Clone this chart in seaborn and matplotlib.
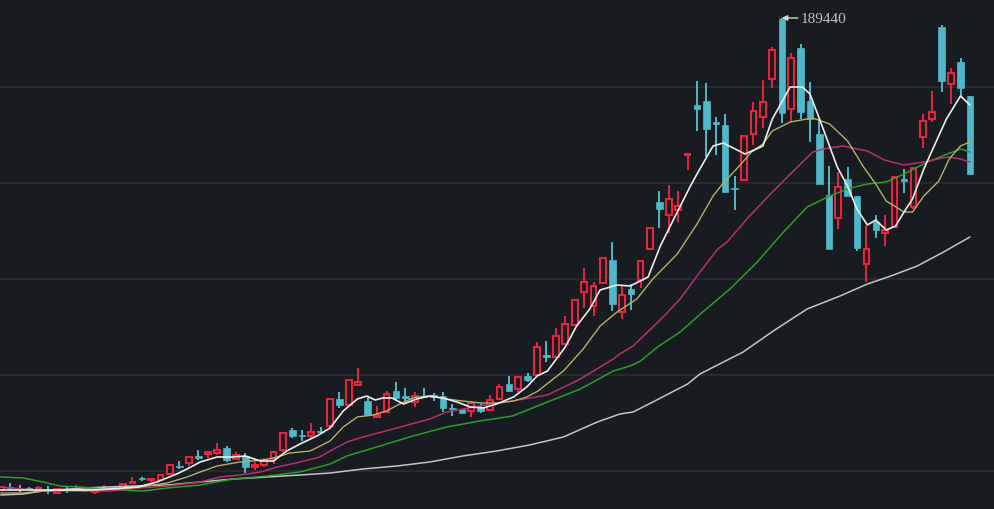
import matplotlib
matplotlib.use("Agg")
import matplotlib.pyplot as plt
import numpy as np
import seaborn as sns

POINT = 189440 / 491
PEAK_LABEL = "189440"
GRID_LEVELS = [38.5, 134.5, 230.5, 326.5, 422.5]

opens = [19,22,21,21,20,19.5,16,20,19,18.5,17,19,20,19,26,31,29,29,35,43,46,53,55,56,61,50,53,42,44,50,59,79,74,73,78,
         83,110,104,124,108,92,97,118,113,107,113,114,113,101,100,98,102,99,110,125,120,133,134,154,152,165,184,217,203,226,249,197,220,229,260,
         307,294,299,354,404,408,387,384,321,329,375,392,430,490,400,461,408,375,314,291,330,313,245,287,276,282,330,302,372,390,482,425,447,413]
closes = [22,21,20,20,21,18.5,20,19,20,19,18,20,21,25,27,30,30,34,44,42,52,51,57,59,49,54,42,44,49,57,76,73,73,77,77,
          110,104,129,127,94,94,115,111,111,113,112,112,101,100,96,106,98,109,122,118,132,129,162,152,173,185,209,227,223,251,205,214,215,248,281,
          300,310,303,355,400,380,385,317,320,373,398,407,459,396,451,397,390,325,260,322,313,261,260,279,279,332,328,341,388,397,428,436,421,335]
highs = [22,26,24,22,23,23,20,22,24,20,18,24,22,25,32,32,31,34,44,48,53,59,58,66,63,57,56,47,51,57,76,81,79,86,82,
         111,117,130,141,113,103,118,127,121,117,121,116,117,105,100,108,105,114,125,133,132,136,167,168,181,193,209,241,227,252,267,223,225,249,281,
         318,324,318,355,428,426,392,395,333,373,407,429,462,491,456,465,427,390,343,337,342,313,283,294,294,333,340,341,395,418,484,441,451,413]
lows = [18,18,17,19,18,15,15,16,17,18,15,19,19,19,26,28,27,29,34,40,43,49,51,54,47,50,36,39,42,45,57,71,68,71,75,
        80,101,104,124,93,92,96,108,107,102,111,108,97,93,96,92,96,99,110,118,117,127,134,147,151,165,183,201,193,226,198,190,199,221,259,
        281,276,287,339,378,352,354,317,299,329,364,381,421,386,388,390,367,325,260,280,313,258,227,271,263,282,316,300,361,387,417,405,412,335]

ma5_day = [0,5.2,10,14.6,16.6,18.7,19.8,21.2,23,24.7,26,27.6,29,30.4,31.8,33.6,35,36.4,37.9,38.9,39.8,40.6,41.6,42.8,44.2,45.6,47,48.5,49.9,51.3,52.7,54.5,55.9,57,58.1,60,61.2,62.6,63.7,65.5,66.9,68.8,70.1,71.9,73.3,74,75.7,76.8,79.1,81,82,82.6,83.9,85.2,86,87.1,88.9,90,91,92.1,93,94.1,95.1,96,96.9,98.1,99.2,100.5,102,103]
ma5 = [19,19,19,22,27,35,40,47,52,52,53,48,48,58,65,73,81,98,110,113,109,111,111,105,110,113,111,107,102,101,105,112,122,133,138,162,183,200,219,224,223,232,263,297,323,335,363,366,355,363,390,400,422,422,415,388,342,323,300,284,289,279,283,297,310,340,363,390,413,404]

ma10_day = [0,2.4,4.5,7,12.4,14.8,17.7,19.8,21.2,23,25.4,27.9,29.4,30.7,32.9,35,36.4,37.9,39.6,41,42.4,43.8,45.3,47.4,49.1,51,52.7,54.5,55.9,57.1,59.8,61.9,63.7,65.5,67.6,69.3,71.9,74,75.7,76.7,78.2,79.8,81,82,83.9,86.3,88.1,90,91.7,93,94.1,96,96.9,98.1,99.7,100.8,102,103]
ma10 = [16,16,18,19,20,22,26,32,37,43,47,49,52,56,58,68,82,92,94,98,105,111,113,110,108,106,106,108,112,118,138,160,183,197,210,230,255,285,313,325,340,357,365,378,387,391,385,368,342,325,308,297,297,313,328,350,363,367]

ma20_day = [0,2.4,4.5,7,11.6,14.8,17.7,21.2,23.3,25.4,27.6,29.4,31.8,33.9,35,36.8,38.5,42.1,45.6,47.4,50.9,54.4,58.1,61.6,65.1,65.8,67.2,70.4,72.2,74,76.2,77.2,79.3,81.8,83.6,86.3,87.4,89.5,92.1,93.9,96,98.1,100.6,102,103]
ma20 = [22,20,18,18,18,21,23,27,32,34,37,42,47,52,58,67,72,81,90,97,103,108,114,130,150,155,163,192,210,233,260,267,290,315,332,357,360,363,358,349,344,347,352,350,347]

ma30_day = [0,2.4,4.5,6.3,8.4,12.4,15.1,17.7,21.2,24.7,28.3,31.8,35,36.8,40.3,43.8,47.4,50.9,54.4,58.1,61.6,65.1,66.9,68,69.8,72.2,74.6,77.5,80.4,81.6,82.8,85.7,88.1,90.3,92.1,94.1,96,98.5,100.6,102,103]
ma30 = [32,31,27,23,22,19,18,21,24,30,33,37,45,53,63,73,82,88,93,107,120,138,143,148,162,177,197,220,247,260,273,302,313,321,325,327,335,347,355,360,357]

ma60_day = [0,2.4,4.5,8.7,14.1,17.7,21.2,24.7,28.3,31.8,35,38.5,42.1,45.6,49.1,52.7,56.2,59.8,63.4,65.8,67.2,69.3,73,74.3,78.9,82.1,85.7,89.2,92.1,94.6,97.4,100.2,103]
ma60 = [14,15,18,21,23,24,27,30,32,34,36,40,43,47,53,58,64,72,87,95,97,107,125,135,157,178,200,213,225,233,243,257,272]

BG = "#181b20"
RED = "#e8233f"
TEAL = "#4fb9c9"
GRID = "#2b2d31"

sns.set_theme(style="dark", rc={"axes.facecolor": BG, "figure.facecolor": BG})
fig = plt.figure(figsize=(9.94, 5.10), dpi=100)
ax = fig.add_axes([0, 0, 1, 1])

days = np.arange(len(opens))
o, c, h, l = [np.array(a, float) * POINT for a in (opens, closes, highs, lows)]
up = c >= o

for level in GRID_LEVELS:
    ax.axhline(level * POINT, color=GRID, lw=1.2, zorder=1)

ax.vlines(days[up], l[up], h[up], color=RED, lw=1.4, zorder=2)
ax.vlines(days[~up], l[~up], h[~up], color=TEAL, lw=1.4, zorder=2)
ax.bar(days[up], (c - o)[up], bottom=o[up], width=0.6, facecolor=BG, edgecolor=RED, linewidth=1.5, zorder=3)
ax.bar(days[~up], (o - c)[~up], bottom=c[~up], width=0.68, facecolor=TEAL, edgecolor=TEAL, linewidth=0.5, zorder=3)

for d, v, col, lw in [
    (ma60_day, ma60, "#c4c4c4", 1.1),
    (ma30_day, ma30, "#2c9c2c", 1.1),
    (ma20_day, ma20, "#b5306f", 1.1),
    (ma10_day, ma10, "#b3b06a", 1.0),
    (ma5_day, ma5, "#ececec", 1.2),
]:
    sns.lineplot(x=d, y=np.array(v, float) * POINT, color=col, linewidth=lw, estimator=None, sort=False, ax=ax, zorder=4)

ax.annotate(PEAK_LABEL, xy=(days[int(np.argmax(h))], h.max()), xytext=(14, 0), textcoords="offset points",
            color="#bcc0c0", fontsize=11, family="Liberation Serif", va="center", ha="left",
            arrowprops=dict(arrowstyle="-|>", color="#d8d8d8", lw=1, shrinkA=0, shrinkB=0, mutation_scale=8), zorder=5)

ax.set_xlim(-0.074, 105.56)
ax.set_ylim(0, 510 * POINT)
ax.set_xticks([])
ax.set_yticks([])
for s in ax.spines.values():
    s.set_visible(False)
fig.savefig("out.png", dpi=100, facecolor=BG)
